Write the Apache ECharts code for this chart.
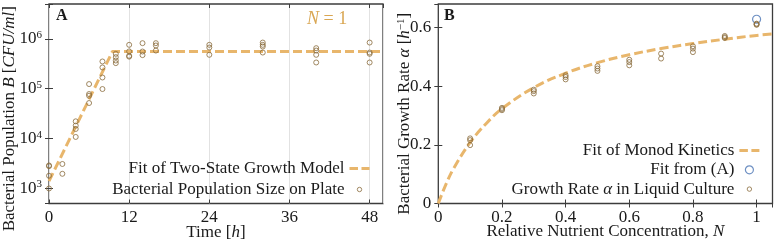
<!DOCTYPE html>
<html><head><meta charset="utf-8">
<script src="https://cdn.jsdelivr.net/npm/echarts@6/dist/echarts.min.js"></script>
<style>html,body{margin:0;padding:0;background:#fff}#c{width:774px;height:252px}</style>
</head><body><div id="c"></div>
<script>
// ---- Panel A data ----
const plateTimes = [0,0,0,0, 2,2, 4,4,4,4, 6,6,6,6, 8,8,8,8, 10,10,10,10, 12,12,12,12, 14,14,14, 16,16,16, 24,24,24, 32,32,32,32, 40,40,40,40, 48,48,48,48];
const plateCounts = [2900,2800,1800,1000, 3100,1970, 22200,18200,15600,10800, 124000,78300,72400,51700, 352000,267000,168000,98600, 501000,430000,368000,326000, 759000,560000,457000,440000, 820000,557000,472000, 820000,735000,583000, 759000,670000,479000, 843000,759000,701000,532000, 651000,583000,479000,336000, 843000,532000,501000,336000];
const fitTimes = [0, 9.5, 50];
const fitCounts = [1400, 560000, 560000];
const timeTicks = [0, 12, 24, 36, 48];
// ---- Panel B data ----
const conc = [0.1,0.1,0.1, 0.2,0.2,0.2, 0.3,0.3,0.3, 0.4,0.4,0.4, 0.5,0.5,0.5, 0.6,0.6,0.6, 0.7,0.7, 0.8,0.8,0.8, 0.9,0.9,0.9, 1,1,1];
const rate = [0.222,0.216,0.199, 0.326,0.322,0.318, 0.388,0.383,0.375, 0.437,0.431,0.423, 0.468,0.460,0.452, 0.490,0.482,0.471, 0.511,0.494, 0.536,0.528,0.516, 0.571,0.567,0.564, 0.613,0.611,0.609];
const monodN = [0,0.025,0.05,0.1,0.15,0.2,0.3,0.4,0.5,0.6,0.7,0.8,0.9,1.0,1.05];
const monodRate = [0,0.068,0.123,0.208,0.272,0.323,0.395,0.444,0.480,0.507,0.528,0.545,0.560,0.573,0.578];
const fitFromA_N = [1];
const fitFromA_rate = [0.628];

const FONT = '"Liberation Serif", "DejaVu Serif", serif';
const FS = 17;
const TXT = '#1a1a1a';
const AX = '#3c3c3c';
const ORANGE = '#E8B66C';
const BROWN = '#8A6B3C';
const BLUE = '#4A74B4';

const zip = (a, b) => a.map((v, i) => [v, b[i]]);

const lbl = {fontFamily: FONT, fontSize: FS, color: TXT};
const rich = {
  i: {fontFamily: FONT, fontSize: FS, fontStyle: 'italic', color: TXT},
  s: {fontFamily: FONT, fontSize: 11, color: TXT, verticalAlign: 'top', padding: [0,0,8,0]},
  n: {fontFamily: FONT, fontSize: FS, color: TXT}
};
const tick = {show: true, inside: true, length: 4, lineStyle: {color: AX, width: 1}};
const hiddenLine = {show: false};
const DASH_ICON = 'path://M0,0M20,9M0,3H8.5V6H0Z M12,3H20V6H12Z';
const SMALL_CIRCLE = 'path://M0,0M20,9M7.8,4.5a2.2,2.2 0 1,0 4.4,0a2.2,2.2 0 1,0 -4.4,0';
const BIG_CIRCLE = 'path://M0,0M20,9M6,4.5a4,4 0 1,0 8,0a4,4 0 1,0 -8,0';

const chart = echarts.init(document.getElementById('c'), null, {renderer: 'canvas'});
const option = {
  animation: false,
  backgroundColor: '#fff',
  grid: [
    {left: 49, right: 391, top: 4, bottom: 48.5, show: true, borderColor: AX, borderWidth: 1.3, backgroundColor: 'transparent', outerBoundsMode: 'none', containLabel: false},
    {left: 438.3, right: 1.5, top: 4, bottom: 48.5, show: true, borderColor: AX, borderWidth: 1.3, backgroundColor: 'transparent', outerBoundsMode: 'none', containLabel: false}
  ],
  xAxis: [
    {gridIndex: 0, type: 'value', min: 0, max: 50, interval: 12, position: 'bottom',
     axisLine: hiddenLine, axisTick: tick,
     axisLabel: {...lbl, margin: 6, showMaxLabel: false, formatter: v => timeTicks.includes(v) ? String(v) : ''},
     splitLine: {show: true, lineStyle: {color: '#e2e2e2', width: 1}},
     name: 'Time [{i|h}]', nameLocation: 'middle', nameGap: 21, nameMoveOverlap: false,
     nameTextStyle: {...lbl, rich}},
    {gridIndex: 0, type: 'value', min: 0, max: 50, interval: 12, position: 'top',
     axisLine: hiddenLine, axisTick: tick, axisLabel: {show: false}, splitLine: {show: false}},
    {gridIndex: 1, type: 'value', min: 0, max: 1.05, interval: 0.2, position: 'bottom',
     axisLine: hiddenLine, axisTick: tick,
     axisLabel: {...lbl, margin: 6, showMaxLabel: false},
     splitLine: {show: false},
     name: 'Relative Nutrient Concentration, {i|N}', nameLocation: 'middle', nameGap: 20, nameMoveOverlap: false,
     nameTextStyle: {...lbl, rich}},
    {gridIndex: 1, type: 'value', min: 0, max: 1.05, interval: 0.2, position: 'top',
     axisLine: hiddenLine, axisTick: tick, axisLabel: {show: false}, splitLine: {show: false}}
  ],
  yAxis: [
    {gridIndex: 0, type: 'log', logBase: 10, min: 500, max: 5000000, position: 'left',
     axisLine: hiddenLine, axisTick: tick, minorTick: {show: false},
     axisLabel: {...lbl, margin: 7, rich,
       formatter: v => { const l = Math.log10(v); const e = Math.round(l); return Math.abs(l - e) < 1e-6 ? '{n|10}{s|' + e + '}' : ''; }},
     splitLine: {show: false},
     name: 'Bacterial Population {i|B} [{i|CFU/ml}]', nameLocation: 'middle', nameGap: 31, nameMoveOverlap: false,
     nameTextStyle: {...lbl, rich, padding: [0, 30, 0, 0]}},
    {gridIndex: 0, type: 'log', logBase: 10, min: 500, max: 5000000, position: 'right',
     axisLine: hiddenLine, axisTick: tick, axisLabel: {show: false}, splitLine: {show: false}},
    {gridIndex: 1, type: 'value', min: 0, max: 0.68, interval: 0.2, position: 'left',
     axisLine: hiddenLine, axisTick: tick,
     axisLabel: {...lbl, margin: 7, showMaxLabel: false},
     splitLine: {show: false},
     name: 'Bacterial Growth Rate {i|α} [{i|h}{s|−1}]', nameLocation: 'middle', nameGap: 24, nameMoveOverlap: false,
     nameTextStyle: {...lbl, rich, padding: [0, 20, 0, 0]}},
    {gridIndex: 1, type: 'value', min: 0, max: 0.68, interval: 0.2, position: 'right',
     axisLine: hiddenLine, axisTick: tick, axisLabel: {show: false}, splitLine: {show: false}}
  ],
  legend: [
    {orient: 'vertical', align: 'right', right: 399, top: 155, itemWidth: 20, itemHeight: 9, itemGap: 4,
     textStyle: {...lbl}, selectedMode: false,
     data: [
       {name: 'Fit of Two-State Growth Model', icon: DASH_ICON, itemStyle: {color: ORANGE, borderWidth: 0}},
       {name: 'Bacterial Population Size on Plate', icon: SMALL_CIRCLE,
        itemStyle: {color: 'rgba(0,0,0,0)', borderColor: BROWN, borderWidth: 1}}
     ]},
    {orient: 'vertical', align: 'right', right: 9, top: 137, itemWidth: 20, itemHeight: 9, itemGap: 2.3,
     textStyle: {...lbl, rich}, selectedMode: false,
     formatter: n => n === 'Growth Rate α in Liquid Culture' ? 'Growth Rate {i|α} in Liquid Culture' : n,
     data: [
       {name: 'Fit of Monod Kinetics', icon: DASH_ICON, itemStyle: {color: ORANGE, borderWidth: 0}},
       {name: 'Fit from (A)', icon: BIG_CIRCLE,
        itemStyle: {color: 'rgba(0,0,0,0)', borderColor: BLUE, borderWidth: 1.2}},
       {name: 'Growth Rate α in Liquid Culture', icon: SMALL_CIRCLE,
        itemStyle: {color: 'rgba(0,0,0,0)', borderColor: BROWN, borderWidth: 1}}
     ]}
  ],
  series: [
    {name: 'Fit of Two-State Growth Model', type: 'line', xAxisIndex: 0, yAxisIndex: 0,
     data: zip(fitTimes, fitCounts), symbol: 'none', silent: true, z: 2,
     lineStyle: {color: ORANGE, width: 3, type: [9, 4]}, itemStyle: {color: ORANGE}},
    {name: 'Bacterial Population Size on Plate', type: 'scatter', xAxisIndex: 0, yAxisIndex: 0,
     data: zip(plateTimes, plateCounts), symbol: 'circle', symbolSize: 5, silent: true, z: 3,
     itemStyle: {color: 'rgba(0,0,0,0)', borderColor: BROWN, borderWidth: 1}},
    {name: 'Fit of Monod Kinetics', type: 'line', xAxisIndex: 2, yAxisIndex: 2, smooth: 0.4,
     data: zip(monodN, monodRate), symbol: 'none', silent: true, z: 2,
     lineStyle: {color: ORANGE, width: 3, type: [9, 4]}, itemStyle: {color: ORANGE}},
    {name: 'Fit from (A)', type: 'scatter', xAxisIndex: 2, yAxisIndex: 2,
     data: zip(fitFromA_N, fitFromA_rate), symbol: 'circle', symbolSize: 8, silent: true, z: 3,
     itemStyle: {color: 'rgba(0,0,0,0)', borderColor: BLUE, borderWidth: 1.2}},
    {name: 'Growth Rate α in Liquid Culture', type: 'scatter', xAxisIndex: 2, yAxisIndex: 2,
     data: zip(conc, rate), symbol: 'circle', symbolSize: 5, silent: true, z: 4,
     itemStyle: {color: 'rgba(0,0,0,0)', borderColor: BROWN, borderWidth: 1}}
  ],
  graphic: [
    {type: 'text', left: 56, top: 8, style: {text: 'A', font: 'bold 16px ' + FONT, fill: TXT}},
    {type: 'text', left: 444, top: 8, style: {text: 'B', font: 'bold 16px ' + FONT, fill: TXT}},
    {type: 'text', left: 307, top: 10, style: {text: '{i|N} = 1', font: '18px ' + FONT, fill: '#D9A652',
      rich: {i: {fontStyle: 'italic', fontSize: 18, fontFamily: FONT, fill: '#D9A652'}}}}
  ]
};
chart.setOption(option);
</script>
</body></html>
